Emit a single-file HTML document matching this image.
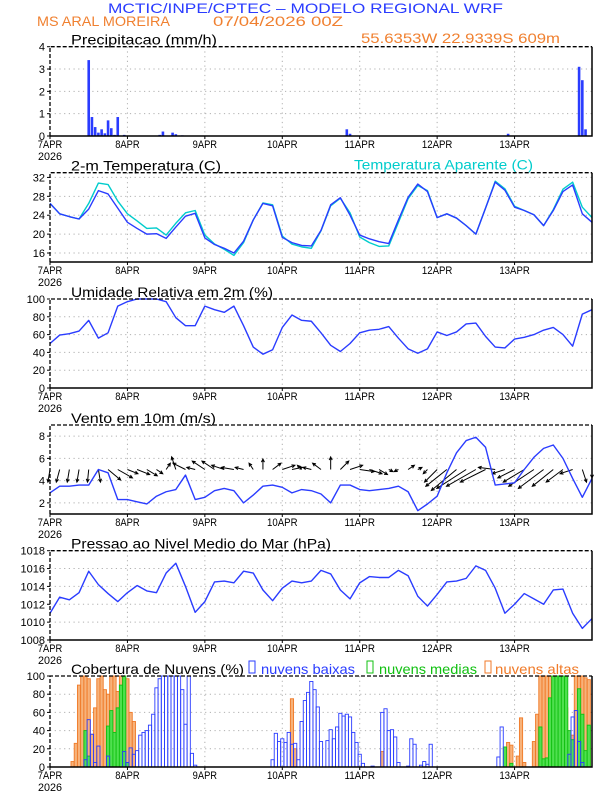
<!DOCTYPE html>
<html><head><meta charset="utf-8"><title>Meteograma WRF</title>
<style>
html,body{margin:0;padding:0;background:#fff;}
svg{display:block;font-family:"Liberation Sans",sans-serif;}
</style></head>
<body>
<svg id="chart" width="612" height="792" viewBox="0 0 612 792" xmlns="http://www.w3.org/2000/svg">
<rect x="0" y="0" width="612" height="792" fill="#fff"/>
<text x="108" y="13" font-size="14" fill="#2a3cff" textLength="395" lengthAdjust="spacingAndGlyphs">MCTIC/INPE/CPTEC – MODELO REGIONAL WRF</text>
<text x="37" y="26" font-size="14" fill="#f08030" textLength="133" lengthAdjust="spacingAndGlyphs">MS ARAL MOREIRA</text>
<text x="213" y="26" font-size="14" fill="#f08030" textLength="130" lengthAdjust="spacingAndGlyphs">07/04/2026 00Z</text>
<text x="361" y="43" font-size="14" fill="#f08030" textLength="199" lengthAdjust="spacingAndGlyphs">55.6353W 22.9339S 609m</text>
<g id="panels"></g>
</svg>
<script>
// ---------- data (hours since 07APR 00Z) ----------
const dayLabels = ["7APR","8APR","9APR","10APR","11APR","12APR","13APR"];
const yearLabel = "2026";
const lineHours = [0,3,6,9,12,15,18,21,24,27,30,33,36,39,42,45,48,51,54,57,60,63,66,69,72,75,78,81,84,87,90,93,96,99,102,105,108,111,114,117,120,123,126,129,132,135,138,141,144,147,150,153,156,159,162,165,168];
const precipHours = [12,13,14,15,16,17,18,19,20,21,23,34,35,38,39,41,92,93,142,164,165,166];
const precipValues = [3.4,0.85,0.4,0.15,0.3,0.12,0.7,0.35,0.05,0.85,0.05,0.05,0.2,0.15,0.08,0.03,0.3,0.1,0.1,3.1,2.5,0.3];
const tempValues = [26.5,24.3,23.7,23.2,25.3,29.2,28.5,25.5,22.5,21.2,20.0,20.1,19.1,21.5,23.8,24.4,19.2,17.8,17.0,16.0,18.5,23.0,26.5,26.0,19.3,18.2,17.6,17.5,20.8,26.2,27.7,24.0,19.8,19.0,18.4,18.0,23.0,27.8,30.6,29.0,23.5,24.3,23.4,21.8,20.0,25.5,31.0,29.3,25.7,25.0,24.1,21.8,25.0,29.0,30.4,24.3,22.5];
const apparentTempValues = [26.5,24.3,23.7,23.2,26.5,30.8,30.5,27.0,24.3,22.8,21.2,21.3,19.8,22.3,24.5,25.0,19.8,17.9,16.8,15.5,18.2,23.0,26.6,26.2,19.6,17.9,17.3,17.0,20.7,26.0,27.6,24.5,19.4,18.2,17.4,17.5,22.5,27.5,30.3,29.2,23.5,24.3,23.4,21.8,20.0,25.5,31.2,29.6,25.9,25.0,24.1,21.8,25.2,29.5,31.0,25.7,23.5];
const rhValues = [50,59.5,61,64,76,56,62,92,97,100,100,100,97,79,70,70,92,88,85,92,70,46,38,43,68,82,76,75,62,48,41,50,62,65,66,69,56,44,39,44,63,59,63,72,73,58,46,45,55,57,60,65,68,60,47,83,88];
const windSpeedValues = [2.9,3.5,3.5,3.6,3.6,5.0,4.7,2.3,2.3,2.1,1.9,2.6,3.0,3.2,4.5,2.3,2.5,3.1,3.3,3.1,2.0,2.7,3.5,3.6,3.4,2.9,3.2,3.1,2.8,2.0,3.6,3.6,3.2,3.1,3.2,3.3,3.5,3.0,1.3,1.9,2.6,4.7,6.5,7.6,7.9,7.0,3.6,3.7,3.8,5.0,6.1,6.9,7.2,6.0,4.2,2.5,4.2];
const windU = [-0.5,-0.8,-0.5,-0.5,-0.3,0.5,3,3.5,2.5,3,2.5,1.5,1,-1,-3,-2,-3,-3,-3,-3,-2,-1,0,2,3,2.5,-1,-2,-2,0,2,3,3.5,3,2,1,-1,1.5,1,-1,-3,-5,-6,-7,-7,-6,-4,-3,-4,-5,-6,-6,-5,-4,-3,1,0];
const windV = [-3,-3,-3,-3,-3,-3,-2.5,-2,-1,-1.2,-1.5,-1,1.5,3,1.5,0.5,2,2,1,0.5,0.5,1.5,2.5,1.5,1,0.5,1,0.5,1.5,3,2,1,-0.5,-1,-1.2,-0.5,-0.5,1,0.5,-1,-3,-4,-5,-4.5,-4,-3,0.5,-1,-2,-3,-4,-4.5,-4,-3,-1,-3,-2];
const pressureValues = [1011.0,1012.8,1012.5,1013.3,1015.7,1014.2,1013.2,1012.3,1013.3,1014.1,1013.5,1013.3,1015.5,1016.6,1014.0,1011.1,1012.3,1014.5,1014.6,1014.4,1015.7,1015.5,1013.6,1012.4,1013.8,1014.6,1014.4,1014.6,1015.8,1015.4,1013.6,1012.6,1014.4,1015.1,1015.0,1015.0,1015.8,1015.2,1012.9,1011.8,1013.1,1014.5,1014.6,1014.9,1016.3,1015.8,1013.8,1011.0,1012.0,1013.2,1012.6,1012.0,1013.6,1013.7,1011.0,1009.3,1010.4];
const cloudHighHours = [7,8,9,10,11,12,13,14,15,16,17,18,19,20,21,22,23,24,25,26,75,76,103,142,143,145,146,147,150,151,152,153,154,155,156,157,158,159,160,161,162,163,164,165,166,167];
const cloudHighValues = [6,26,90,100,100,97,36,65,97,100,85,80,100,100,83,100,100,97,60,50,75,20,17,27,24,12,54,5,28,58,100,100,100,100,95,100,100,100,65,26,35,100,100,100,98,96];
const cloudMidHours = [11,12,18,19,20,21,22,23,24,141,143,152,153,154,155,156,157,158,159,160,161,162,164,165,166,167];
const cloudMidValues = [40,12,45,62,38,65,90,100,5,22,4,44,9,10,76,100,100,100,100,100,40,30,86,58,18,46];
const cloudLowHours = [11,12,13,14,15,18,23,24,25,26,27,28,29,30,31,32,33,34,35,36,37,38,39,40,41,42,43,44,45,69,70,71,72,73,74,75,76,77,78,79,80,81,82,83,84,86,87,88,89,90,91,92,93,94,95,96,97,100,103,104,105,106,107,108,111,112,113,115,116,117,118,139,140,161,162,163,164,165];
const cloudLowValues = [8,52,36,5,23,12,17,5,21,14,18,35,38,40,46,58,87,97,100,100,100,100,100,100,85,47,100,15,2,8,37,28,31,27,38,25,26,8,50,73,82,94,85,66,28,29,41,31,44,59,56,58,55,38,27,14,4,1,60,64,40,41,33,5,1,31,25,2,6,3,25,11,44,14,55,62,28,5];
const ticksPrecip = [0,1,2,3,4];
const ticksTemp = [16,20,24,28,32];
const ticksRH = [0,20,40,60,80,100];
const ticksWind = [2,4,6,8];
const ticksPressure = [1008,1010,1012,1014,1016,1018];
const ticksCloud = [0,20,40,60,80,100];

// ---------- layout ----------
const NS = "http://www.w3.org/2000/svg";
const X0 = 50, X1 = 592, HOURS = 168;
const BLUE = "#2a3cff", CYAN = "#00cccc";
const root = document.getElementById("panels");
function xOf(h){ return X0 + h * (X1 - X0) / HOURS; }
function mk(tag, attrs, parent){
  const e = document.createElementNS(NS, tag);
  for (const k in attrs) e.setAttribute(k, attrs[k]);
  (parent || root).appendChild(e);
  return e;
}
function makeY(p){ return v => p.bot - (v - p.min) * (p.bot - p.top) / (p.max - p.min); }

function drawPanel(p, name, title, ticks){
  const g = mk("g", {});
  
  
  const y = makeY(p);
  // grid
  for (let d = 1; d < 7; d++){
    const gl = mk("line", {x1:xOf(d*24), x2:xOf(d*24), y1:p.top, y2:p.bot, stroke:"#b0b0b0", "stroke-width":1, "stroke-dasharray":"1.2,3.5"}, g);
    
    
  }
  ticks.forEach(t => {
    const yy = y(t);
    if (yy > p.top + 1 && yy < p.bot - 1){
      const gl = mk("line", {x1:X0, x2:X1, y1:yy, y2:yy, stroke:"#b0b0b0", "stroke-width":1, "stroke-dasharray":"1.2,3.5"}, g);
      
      
    }
    const tk = mk("line", {x1:X0-3, x2:X0, y1:yy, y2:yy, stroke:"#000", "stroke-width":1}, g);
    
    
    const tl = mk("text", {x:45, y:yy+4, "font-size":11, "text-anchor":"end", fill:"#000"}, g);
    tl.textContent = t;
    
    
  });
  // x labels
  dayLabels.forEach((lab, i) => {
    const xl = mk("text", {x:xOf(i*24), y:p.bot+12, "font-size":11, "text-anchor":"middle", fill:"#000", textLength: lab.length*6.1, lengthAdjust:"spacingAndGlyphs"}, g);
    xl.textContent = lab;
    
    
    const tk = mk("line", {x1:xOf(i*24), x2:xOf(i*24), y1:p.bot, y2:p.bot+3, stroke:"#000", "stroke-width":1}, g);
    
    
  });
  const yr = mk("text", {x:X0, y:p.bot+24, "font-size":11, "text-anchor":"middle", fill:"#000", textLength:24, lengthAdjust:"spacingAndGlyphs"}, g);
  yr.textContent = yearLabel;
  
  
  const tt = mk("text", {x:71, y:p.top-2, "font-size":14, fill:"#000", textLength:title.w, lengthAdjust:"spacingAndGlyphs"}, g);
  tt.textContent = title.t;
  
  
  return {g, y};
}
function drawFrame(p, g){
  const f1 = mk("path", {d:`M${X0},${p.bot} V${p.top} H${X1}`, fill:"none", stroke:"#000", "stroke-width":1.3, "stroke-dasharray":"4,2"}, g);
  
  
  const f2 = mk("path", {d:`M${X1},${p.top} V${p.bot} H${X0}`, fill:"none", stroke:"#000", "stroke-width":1.5}, g);
  
  
}
function drawLine(vals, y, color, g, name){
  let d = "";
  vals.forEach((v, i) => { d += (i ? "L" : "M") + xOf(lineHours[i]).toFixed(2) + "," + y(v).toFixed(2); });
  const l = mk("path", {d, fill:"none", stroke:color, "stroke-width":1.4, "stroke-linejoin":"round"}, g);
  
  
}

// Panel 1: precipitation
const P1 = {top:46.7, bot:136, min:0, max:4};
const a = drawPanel(P1, "precipitation", {t:"Precipitacao (mm/h)", w:146}, ticksPrecip);
precipHours.forEach((h, i) => {
  const bw = 2.6, yy = a.y(precipValues[i]);
  const b = mk("rect", {x:xOf(h)-bw/2, y:yy, width:bw, height:P1.bot-yy, fill:BLUE}, a.g);
  
  
});
drawFrame(P1, a.g);

// Panel 2: temperature
const P2 = {top:172.7, bot:262, min:14.1, max:33.0};
const b2 = drawPanel(P2, "temperature", {t:"2-m Temperatura (C)", w:150}, ticksTemp);
const lg = mk("text", {x:354, y:P2.top-3, "font-size":14, fill:CYAN, textLength:179, lengthAdjust:"spacingAndGlyphs"}, b2.g);
lg.textContent = "Temperatura Aparente (C)";


drawLine(apparentTempValues, b2.y, CYAN, b2.g, "apparent-temperature-line");
drawLine(tempValues, b2.y, BLUE, b2.g, "temperature-line");
drawFrame(P2, b2.g);

// Panel 3: RH
const P3 = {top:299, bot:388, min:0, max:100};
const c3 = drawPanel(P3, "humidity", {t:"Umidade Relativa em 2m (%)", w:202}, ticksRH);
drawLine(rhValues, c3.y, BLUE, c3.g, "humidity-line");
drawFrame(P3, c3.g);

// Panel 4: wind
const P4 = {top:425, bot:514, min:1, max:9};
const d4 = drawPanel(P4, "wind", {t:"Vento em 10m (m/s)", w:145}, ticksWind);
const baseY = d4.y(5);
windU.forEach((u, i) => {
  const v = windV[i], sc = 4.2;
  const x0 = xOf(lineHours[i]), x1 = x0 + u*sc, y1 = baseY - v*sc;
  const ang = Math.atan2(y1 - baseY, x1 - x0), hl = 3.5;
  const hx1 = x1 - hl*Math.cos(ang - 0.45), hy1 = y1 - hl*Math.sin(ang - 0.45);
  const hx2 = x1 - hl*Math.cos(ang + 0.45), hy2 = y1 - hl*Math.sin(ang + 0.45);
  const ar = mk("path", {d:`M${x0},${baseY}L${x1},${y1}M${hx1},${hy1}L${x1},${y1}L${hx2},${hy2}`, fill:"none", stroke:"#000", "stroke-width":1}, d4.g);
  
  
});
drawLine(windSpeedValues, d4.y, BLUE, d4.g, "wind-speed-line");
drawFrame(P4, d4.g);

// Panel 5: pressure
const P5 = {top:550.7, bot:640, min:1008, max:1018};
const e5 = drawPanel(P5, "pressure", {t:"Pressao ao Nivel Medio do Mar (hPa)", w:260}, ticksPressure);
drawLine(pressureValues, e5.y, BLUE, e5.g, "pressure-line");
drawFrame(P5, e5.g);

// Panel 6: clouds
const P6 = {top:676, bot:767, min:0, max:100};
const f6 = drawPanel(P6, "cloud-cover", {t:"Cobertura de Nuvens (%)", w:173}, ticksCloud);
function cloudBars(hours, vals, fill, stroke, name){
  hours.forEach((h, i) => {
    const bw = 3.2, yy = f6.y(vals[i]);
    const r = mk("rect", {x:xOf(h)-bw/2, y:yy, width:bw, height:P6.bot-yy, fill:fill, stroke:stroke, "stroke-width":0.9}, f6.g);
    
    
  });
}
cloudBars(cloudHighHours, cloudHighValues, "#f7b27a", "#f07a28", "high-cloud-bar");
cloudBars(cloudMidHours, cloudMidValues, "#4fe04f", "#10c010", "mid-cloud-bar");
cloudBars(cloudLowHours, cloudLowValues, "none", BLUE, "low-cloud-bar");
const legendItems = [
  {bx:249, tx:261, w:94, t:"nuvens baixas", c:BLUE, n:"legend-low-clouds"},
  {bx:367, tx:379, w:98, t:"nuvens medias", c:"#10c010", n:"legend-mid-clouds"},
  {bx:485, tx:495, w:84, t:"nuvens altas", c:"#f07a28", n:"legend-high-clouds"}
];
legendItems.forEach(it => {
  const bx = mk("rect", {x:it.bx, y:P6.top-15, width:6, height:12, fill:"none", stroke:it.c, "stroke-width":1}, f6.g);
  
  
  const tx = mk("text", {x:it.tx, y:P6.top-2, "font-size":14, fill:it.c, textLength:it.w, lengthAdjust:"spacingAndGlyphs"}, f6.g);
  tx.textContent = it.t;
  
  
});
drawFrame(P6, f6.g);
</script>
</body></html>
